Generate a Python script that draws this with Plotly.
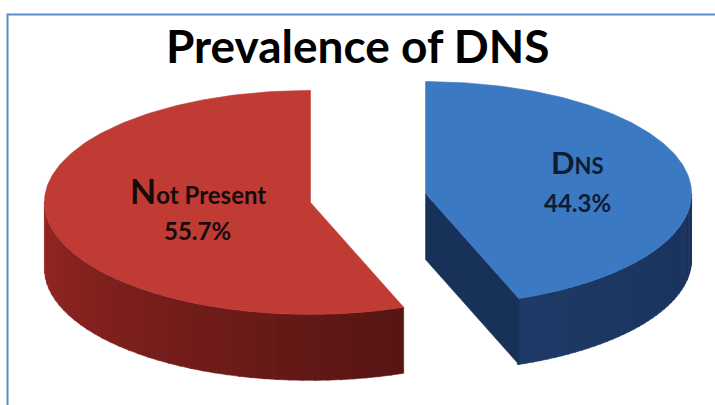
import numpy as np
import plotly.graph_objects as go

# ---- data ----
labels = ["DNS", "Not Present"]
values = [44.3, 55.7]
title_text = "Prevalence of DNS"

# ---- style / geometry ----
W, H = 715, 405
CX, CY = 368, 198          # unexploded centre (pixels)
RA, RB = 266, 112          # ellipse semi-axes
DEPTH = 66                 # thickness of the 3D pie
PULL = 0.22                # explode fraction
face_cols = ["#3B79C3", "#C13B35"]
wall_light = [(30, 58, 102), (150, 39, 35)]
wall_dark = [(20, 42, 78), (86, 21, 19)]
radial_wall_cols = ["#183159", "#5A1714"]
text_cols = ["#0E1C33", "#160A0A"]
label_r = [0.58, 0.43]

fig = go.Figure()

def proj(cx, cy, r, phi_deg, dz=0.0):
    p = np.radians(phi_deg)
    return cx + RA * r * np.sin(p), cy - RB * r * np.cos(p) + dz

def rgb(c):
    return "rgb(%d,%d,%d)" % tuple(int(round(v)) for v in c)

def poly(xs, ys, color):
    fig.add_trace(go.Scatter(x=list(xs) + [xs[0]], y=list(ys) + [ys[0]], mode="lines",
                             fill="toself", fillcolor=color,
                             line=dict(width=0.6, color=color),
                             hoverinfo="skip", showlegend=False))

total = sum(values)
start = 0.0
label_pos = []
for i, v in enumerate(values):
    sweep = 360.0 * v / total
    a0, a1 = start, start + sweep
    bis = (a0 + a1) / 2
    cx, cy = proj(CX, CY, PULL, bis)
    lo, hi = max(a0, 90), min(a1, 270)
    if hi > lo:
        n = 40
        edges = np.linspace(lo, hi, n + 1)
        for k in range(n):
            t = (edges[k] + edges[k + 1]) / 2
            f = (t - lo) / (hi - lo) if i == 1 else 0.5 + 0.5 * (t - lo) / (hi - lo)
            col = [wall_dark[i][j] + (wall_light[i][j] - wall_dark[i][j]) * f for j in range(3)]
            ph = np.linspace(edges[k], edges[k + 1] + 0.3, 4)
            tx, ty = proj(cx, cy, 1.0, ph)
            bx, by = proj(cx, cy, 1.0, ph[::-1], DEPTH)
            poly(np.concatenate([tx, bx]), np.concatenate([ty, by]), rgb(col))
    if i == 0:
        ex, ey = proj(cx, cy, 1.0, a1)
        poly([cx, ex, ex, cx], [cy, ey, ey + DEPTH, cy + DEPTH], radial_wall_cols[i])
    ph = np.linspace(a0, a1, 200)
    fx, fy = proj(cx, cy, 1.0, ph)
    poly(np.concatenate([[cx], fx]), np.concatenate([[cy], fy]), face_cols[i])
    label_pos.append(proj(cx, cy, label_r[i], bis))
    start = a1

for i, (lab, v) in enumerate(zip(labels, values)):
    lx, ly = label_pos[i]
    first, rest = lab[0], lab[1:]
    if i == 0:
        txt = ("<b><span style='font-size:31px'>%s</span>"
               "<span style='font-size:22px'>%s</span></b>" % (first, rest.upper()))
    else:
        txt = ("<b><span style='font-size:34px'>%s</span>"
               "<span style='font-size:24px'>%s</span></b>" % (first, rest))
    fig.add_annotation(x=lx, y=ly - 20, text=txt, showarrow=False,
                       font=dict(family="Lato", color=text_cols[i]))
    fig.add_annotation(x=lx, y=ly + 20, text="<b>%.1f%%</b>" % v, showarrow=False,
                       font=dict(family="Lato", size=24, color=text_cols[i]))

fig.add_annotation(x=W / 2, y=45, text="<b>%s</b>" % title_text, showarrow=False,
                   font=dict(family="Lato", size=46, color="#000000"))

fig.add_shape(type="rect", x0=7.5, y0=14.5, x1=W + 10, y1=H + 10,
              line=dict(color="#5B8BD0", width=2), fillcolor="rgba(0,0,0,0)", layer="above")

fig.update_layout(width=W, height=H, margin=dict(l=0, r=0, t=0, b=0),
                  paper_bgcolor="white", plot_bgcolor="white",
                  xaxis=dict(range=[0, W], visible=False, fixedrange=True),
                  yaxis=dict(range=[H, 0], visible=False, fixedrange=True),
                  showlegend=False)

fig.write_html("out.html", config={"displayModeBar": False},
               post_script="document.body.style.margin='0';document.body.style.overflow='hidden';")
